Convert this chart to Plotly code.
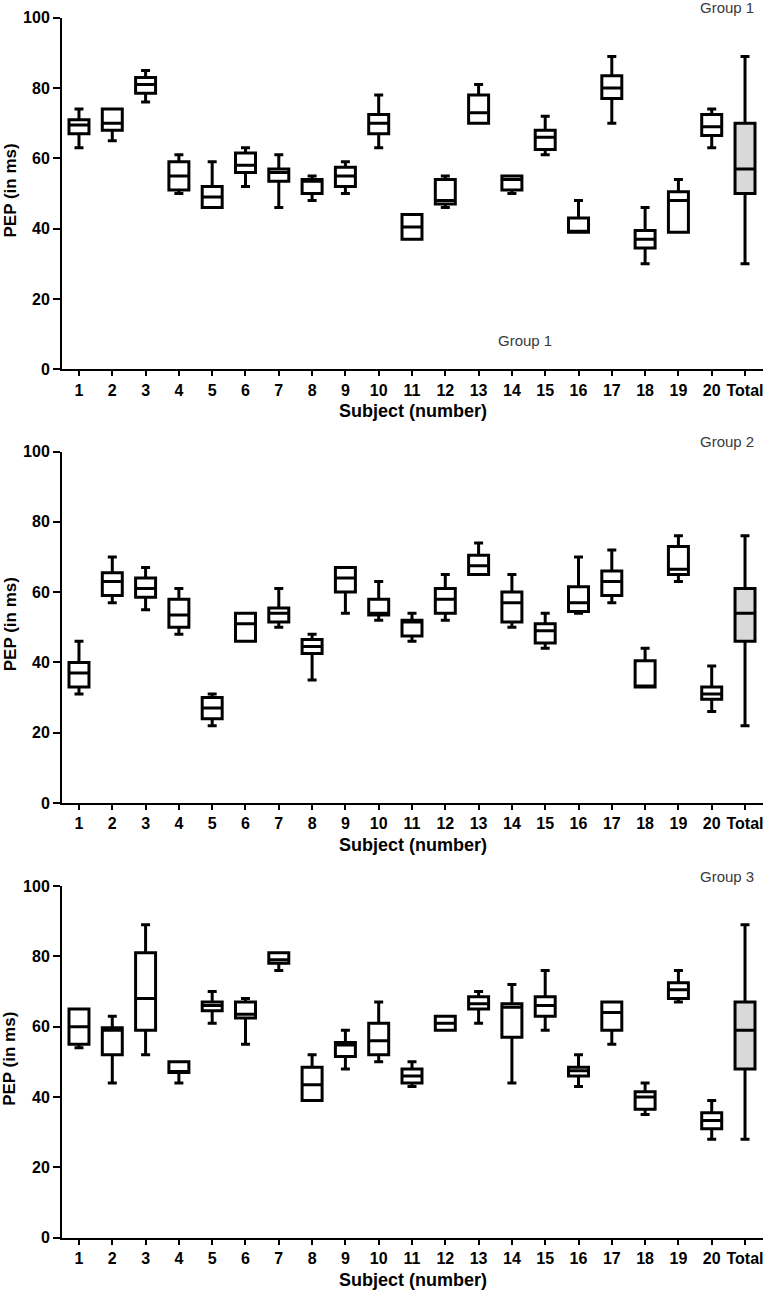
import plotly.graph_objects as go

categories = [str(i) for i in range(1, 21)]
total_label = "Total"
tick_labels = categories + [total_label]
y_ticks = [0, 20, 40, 60, 80, 100]
group_names = ["Group 1", "Group 2", "Group 3"]

# Group 1
g1_max = [74, 74, 85, 61, 59, 63, 61, 55, 59, 78, 44, 55, 81, 55, 72, 48, 89, 46, 54, 74]
g1_q3 = [71, 74, 83, 59, 52, 61.5, 57, 54, 57.5, 72.5, 44, 54, 78, 55, 68, 43, 83.5, 39.5, 50.5, 72.5]
g1_med = [69.5, 70, 81, 55, 49, 58, 56, 53.5, 55, 70, 40.5, 48, 73, 54, 66, 39, 80, 37, 48, 69]
g1_q1 = [67, 68, 78.5, 51, 46, 56, 53.5, 50, 52, 67, 37, 47, 70, 51, 62.5, 39, 77, 34.5, 39, 66.5]
g1_min = [63, 65, 76, 50, 46, 52, 46, 48, 50, 63, 37, 46, 70, 50, 61, 39, 70, 30, 39, 63]
g1_total = [30, 50, 57, 70, 89]  # min, q1, median, q3, max

# Group 2
g2_max = [46, 70, 67, 61, 31, 54, 61, 48, 67, 63, 54, 65, 74, 65, 54, 70, 72, 44, 76, 39]
g2_q3 = [40, 65.5, 64, 58, 30, 54, 55.5, 46.5, 67, 58, 52, 61, 70.5, 60, 51, 61.5, 66, 40.5, 73, 33]
g2_med = [37, 63, 61, 53.5, 27, 51, 54, 44.5, 64, 54, 51.5, 58, 67.5, 57, 49, 57, 63, 33, 66.5, 31]
g2_q1 = [33, 59, 58.5, 50, 24, 46, 51.5, 42.5, 60, 53.5, 47.5, 54, 65, 51.5, 45.5, 54.5, 59, 33, 65, 29.5]
g2_min = [31, 57, 55, 48, 22, 46, 50, 35, 54, 52, 46, 52, 65, 50, 44, 54, 57, 33, 63, 26]
g2_total = [22, 46, 54, 61, 76]

# Group 3
g3_max = [65, 63, 89, 50, 70, 68, 81, 52, 59, 67, 50, 63, 70, 72, 76, 52, 67, 44, 76, 39]
g3_q3 = [65, 59.7, 81, 50, 67, 67, 81, 48.5, 55.5, 61, 48, 63, 68.5, 66.5, 68.5, 48.5, 67, 41.5, 72.5, 35.5]
g3_med = [60, 59, 68, 47, 66, 63.5, 79, 43.5, 54.8, 56, 46, 61, 66.5, 65.5, 66, 47.5, 64, 40, 70.5, 33.3]
g3_q1 = [55, 52, 59, 47, 64.5, 62.5, 78, 39, 51.5, 52, 44, 59, 65, 57, 63, 46, 59, 36.5, 68, 31]
g3_min = [54, 44, 52, 44, 61, 55, 76, 39, 48, 50, 43, 59, 61, 44, 59, 43, 55, 35, 67, 28]
g3_total = [28, 48, 59, 67, 89]

groups = [
    (g1_min, g1_q1, g1_med, g1_q3, g1_max, g1_total),
    (g2_min, g2_q1, g2_med, g2_q3, g2_max, g2_total),
    (g3_min, g3_q1, g3_med, g3_q3, g3_max, g3_total),
]

W, H = 769, 1293
ML, MR = 62, 6
PW = W - ML - MR
# panel pixel extents (top of 100, bottom of 0)
panels_px = [(17.7, 369.3), (451.5, 803.0), (886.0, 1237.7)]

FONT = "Liberation Sans, Arial, sans-serif"

def px_x(px):
    return (px - ML) / PW

def px_y(py):
    return 1 - py / H

fig = go.Figure()
annotations = []
for gi, (mn, q1, med, q3, mx, tot) in enumerate(groups):
    xa = "x" if gi == 0 else f"x{gi+1}"
    ya = "y" if gi == 0 else f"y{gi+1}"
    fig.add_trace(go.Box(
        x=categories, lowerfence=mn, q1=q1, median=med, q3=q3, upperfence=mx,
        xaxis=xa, yaxis=ya, width=0.6, whiskerwidth=0.45,
        fillcolor="white", line=dict(color="black", width=3),
        boxpoints=False, showlegend=False, hoverinfo="skip",
    ))
    fig.add_trace(go.Box(
        x=[total_label], lowerfence=[tot[0]], q1=[tot[1]], median=[tot[2]],
        q3=[tot[3]], upperfence=[tot[4]],
        xaxis=xa, yaxis=ya, width=0.6, whiskerwidth=0.45,
        fillcolor="#d9d9d9", line=dict(color="black", width=3),
        boxpoints=False, showlegend=False, hoverinfo="skip",
    ))
    top, bot = panels_px[gi]
    dom = [px_y(bot), px_y(top)]
    xkey = "xaxis" if gi == 0 else f"xaxis{gi+1}"
    ykey = "yaxis" if gi == 0 else f"yaxis{gi+1}"
    fig.update_layout(**{
        xkey: dict(
            domain=[0, 1], anchor=ya, type="category",
            categoryorder="array", categoryarray=tick_labels,
            range=[-0.51, 20.54], showline=True, linecolor="black", linewidth=2,
            ticks="outside", ticklen=5, tickwidth=2, tickcolor="black",
            showgrid=False, zeroline=False, automargin=False, tickangle=0,
            tickfont=dict(family=FONT, size=16, color="black", weight="bold"),
        ),
        ykey: dict(
            domain=dom, anchor=xa, range=[0, 100], tickvals=y_ticks,
            showline=True, linecolor="black", linewidth=2,
            ticks="outside", ticklen=7, tickwidth=2, tickcolor="black",
            showgrid=False, zeroline=False, automargin=False,
            tickfont=dict(family=FONT, size=16, color="black", weight="bold"),
        ),
    })
    # x title
    annotations.append(dict(
        text="<b>Subject (number)</b>", xref="paper", yref="paper",
        x=0.5, y=px_y(bot + 42), xanchor="center", yanchor="middle",
        showarrow=False, font=dict(family=FONT, size=18, color="black"),
    ))
    # y title
    annotations.append(dict(
        text="<b>PEP (in ms)</b>", xref="paper", yref="paper",
        x=px_x(10), y=px_y((top + bot) / 2 - 3), xanchor="center", yanchor="middle",
        textangle=-90, showarrow=False, font=dict(family=FONT, size=17, color="black"),
    ))
    # group label
    annotations.append(dict(
        text=group_names[gi], xref="paper", yref="paper",
        x=px_x(756), y=px_y(top - 10), xanchor="right", yanchor="middle",
        showarrow=False, font=dict(family=FONT, size=15, color="#3a3a3a"),
    ))

annotations.append(dict(
    text=group_names[0], xref="paper", yref="paper",
    x=px_x(525), y=px_y(340), xanchor="center", yanchor="middle",
    showarrow=False, font=dict(family=FONT, size=15, color="#3a3a3a"),
))

fig.update_layout(
    width=W, height=H, autosize=False,
    margin=dict(l=ML, r=MR, t=0, b=0, pad=0, autoexpand=False),
    plot_bgcolor="white", paper_bgcolor="white",
    boxmode="overlay", annotations=annotations,
)

fig.write_html(
    "out.html",
    config={"displayModeBar": False},
    post_script="document.body.style.margin='0px';document.body.style.padding='0px';document.body.style.overflow='hidden';",
)
